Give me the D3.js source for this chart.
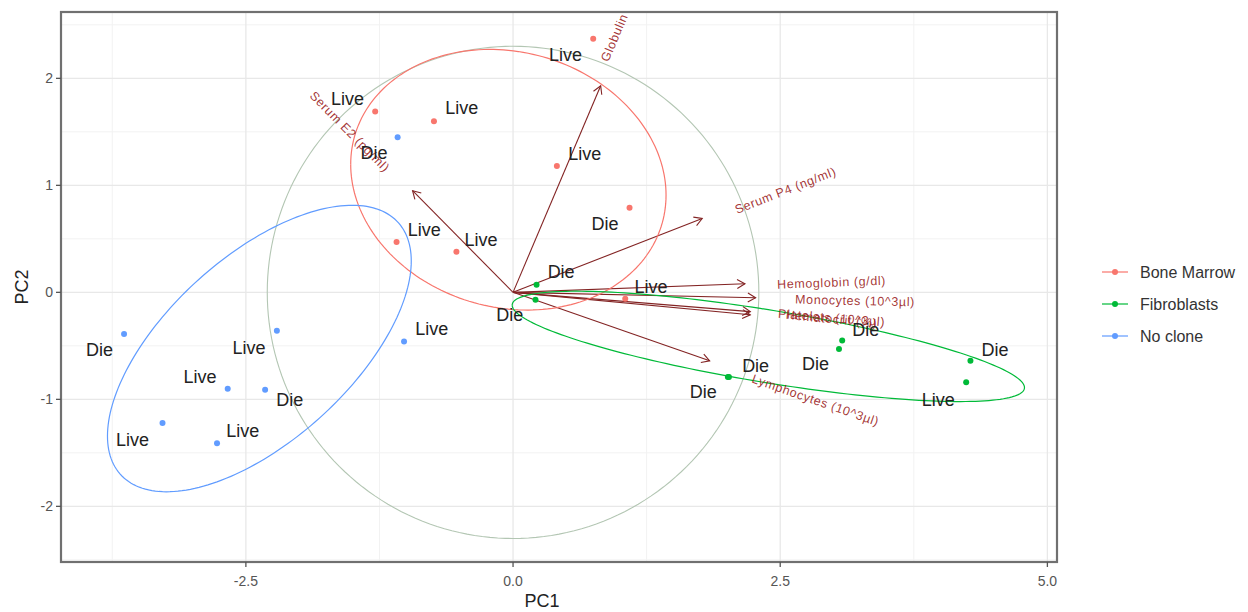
<!DOCTYPE html>
<html><head><meta charset="utf-8">
<script src="https://cdn.jsdelivr.net/npm/d3@7"></script>
<style>body{margin:0;background:#fff}svg{display:block;font-family:"Liberation Sans",Arial,sans-serif}</style>
</head><body><svg id="c" width="1248" height="612"></svg>
<script>
// ---- data ----
const groups = ["Bone Marrow", "Fibroblasts", "No clone"];
const groupColors = ["#F8766D", "#00BA38", "#619CFF"];

const pointGroup = ["Bone Marrow","Bone Marrow","Bone Marrow","Bone Marrow","Bone Marrow","Bone Marrow","Bone Marrow","Bone Marrow",
  "Fibroblasts","Fibroblasts","Fibroblasts","Fibroblasts","Fibroblasts","Fibroblasts","Fibroblasts","Fibroblasts",
  "No clone","No clone","No clone","No clone","No clone","No clone","No clone","No clone"];
const pointPC1 = [0.75,-1.29,-0.74,0.41,1.09,-1.09,-0.53,1.05,
  0.22,0.21,2.01,2.02,3.08,3.05,4.28,4.24,
  -3.64,-2.21,-2.67,-2.32,-3.28,-2.77,-1.02,-1.08];
const pointPC2 = [2.37,1.69,1.60,1.18,0.79,0.47,0.38,-0.06,
  0.07,-0.07,-0.79,-0.79,-0.45,-0.53,-0.64,-0.84,
  -0.39,-0.36,-0.90,-0.91,-1.22,-1.41,-0.46,1.45];
const outcome = ["Live","Live","Live","Live","Die","Live","Live","Live",
  "Die","Die","Die","Die","Die","Die","Die","Live",
  "Die","Live","Live","Die","Live","Live","Live","Die"];
const labelPC1 = [0.49,-1.55,-0.48,0.67,0.86,-0.83,-0.30,1.29,
  0.45,-0.03,1.78,2.27,3.30,2.83,4.51,3.98,
  -3.87,-2.47,-2.93,-2.09,-3.56,-2.53,-0.76,-1.30];
const labelPC2 = [2.22,1.81,1.72,1.29,0.64,0.58,0.49,0.05,
  0.19,-0.21,-0.93,-0.69,-0.35,-0.67,-0.54,-1.01,
  -0.54,-0.52,-0.79,-1.01,-1.38,-1.30,-0.34,1.30];

const varNames = ["Globulin","Serum E2 (pg/ml)","Serum P4 (ng/ml)","Hemoglobin (g/dl)","Monocytes (10^3µl)","Platelets (10^3µl)","Hematocrit (%)","Lymphocytes (10^3µl)"];
const varPC1 = [0.82,-0.94,1.77,2.17,2.27,2.22,2.22,1.84];
const varPC2 = [1.93,0.95,0.69,0.08,-0.05,-0.18,-0.21,-0.64];
const varLabelPC1 = [0.95,-1.53,2.55,2.98,3.20,2.98,2.98,2.83];
const varLabelPC2 = [2.38,1.50,0.95,0.09,-0.08,-0.24,-0.25,-1.01];

const circleRadius = 2.30;
const ellipseProb = 0.68;

const xTicks = [-2.5, 0, 2.5, 5];
const xTickLabels = ["-2.5", "0.0", "2.5", "5.0"];
const xMinor = [-3.75, -1.25, 1.25, 3.75];
const yTicks = [-2, -1, 0, 1, 2];
const yTickLabels = ["-2", "-1", "0", "1", "2"];
const yMinor = [-2.5, -1.5, -0.5, 0.5, 1.5, 2.5];
const xDomain = [-4.23, 5.09];
const yDomain = [-2.52, 2.62];

// ---- layout ----
const svg = d3.select("#c");
const P = {l: 61, t: 12, r: 1057, b: 562};
const x = d3.scaleLinear().domain(xDomain).range([P.l, P.r]);
const y = d3.scaleLinear().domain(yDomain).range([P.b, P.t]);
const color = d3.scaleOrdinal().domain(groups).range(groupColors);

svg.append("rect").attr("width",1248).attr("height",612).attr("fill","#fff");
svg.append("defs").append("clipPath").attr("id","clip").append("rect")
  .attr("x",P.l).attr("y",P.t).attr("width",P.r-P.l).attr("height",P.b-P.t);

const grid = svg.append("g");
grid.selectAll(".xm").data(xMinor).join("line").attr("x1",d=>x(d)).attr("x2",d=>x(d)).attr("y1",P.t).attr("y2",P.b).attr("stroke","#f2f2f2").attr("stroke-width",1);
grid.selectAll(".ym").data(yMinor).join("line").attr("y1",d=>y(d)).attr("y2",d=>y(d)).attr("x1",P.l).attr("x2",P.r).attr("stroke","#f2f2f2").attr("stroke-width",1);
grid.selectAll(".xM").data(xTicks).join("line").attr("x1",d=>x(d)).attr("x2",d=>x(d)).attr("y1",P.t).attr("y2",P.b).attr("stroke","#e8e8e8").attr("stroke-width",1.3);
grid.selectAll(".yM").data(yTicks).join("line").attr("y1",d=>y(d)).attr("y2",d=>y(d)).attr("x1",P.l).attr("x2",P.r).attr("stroke","#e8e8e8").attr("stroke-width",1.3);

const plot = svg.append("g").attr("clip-path","url(#clip)");
const line = d3.line().x(d=>x(d[0])).y(d=>y(d[1]));

// correlation circle
const theta = d3.range(0, 201).map(i => -Math.PI + 2*Math.PI*i/200);
plot.append("path").datum(theta.map(t=>[circleRadius*Math.cos(t), circleRadius*Math.sin(t)]))
  .attr("d", line).attr("fill","none").attr("stroke","#b3c6b3").attr("stroke-width",1.1);

// arrows
const arrows = plot.append("g");
varNames.forEach((n,i)=>{
  const x0 = x(0), y0 = y(0), x1 = x(varPC1[i]), y1 = y(varPC2[i]);
  const ang = Math.atan2(y1-y0, x1-x0), L = 9, a = Math.PI/6;
  arrows.append("line").attr("x1",x0).attr("y1",y0).attr("x2",x1).attr("y2",y1)
    .attr("stroke","#832424").attr("stroke-width",1.1);
  arrows.append("path").attr("d",
    `M${x1-L*Math.cos(ang-a)},${y1-L*Math.sin(ang-a)}L${x1},${y1}L${x1-L*Math.cos(ang+a)},${y1-L*Math.sin(ang+a)}`)
    .attr("fill","none").attr("stroke","#832424").attr("stroke-width",1.1);
});

// points
plot.selectAll(".pt").data(pointPC1).join("circle")
  .attr("cx",(d,i)=>x(pointPC1[i])).attr("cy",(d,i)=>y(pointPC2[i])).attr("r",3)
  .attr("fill",(d,i)=>color(pointGroup[i]));

// ellipses (normal, prob 0.68, as ggbiplot)
const ed = Math.sqrt(-2*Math.log(1-ellipseProb));
groups.forEach(g=>{
  const idx = pointGroup.map((v,i)=>v===g?i:-1).filter(i=>i>=0);
  const xs = idx.map(i=>pointPC1[i]), ys = idx.map(i=>pointPC2[i]);
  const mx = d3.mean(xs), my = d3.mean(ys), n = xs.length;
  const sxx = d3.sum(xs.map(v=>(v-mx)**2))/(n-1);
  const syy = d3.sum(ys.map(v=>(v-my)**2))/(n-1);
  const sxy = d3.sum(xs.map((v,k)=>(v-mx)*(ys[k]-my)))/(n-1);
  const r11 = Math.sqrt(sxx), r12 = sxy/r11, r22 = Math.sqrt(syy - r12*r12);
  const pts = theta.map(t=>[mx + ed*Math.cos(t)*r11, my + ed*(Math.cos(t)*r12 + Math.sin(t)*r22)]);
  plot.append("path").datum(pts).attr("d",line).attr("fill","none")
    .attr("stroke",color(g)).attr("stroke-width",1.2);
});

// variable labels
varNames.forEach((n,i)=>{
  const deg = -Math.atan2(varPC2[i], varPC1[i])*180/Math.PI;
  const rot = Math.abs(deg) > 90 ? deg + 180 : deg;
  plot.append("text").attr("transform",`translate(${x(varLabelPC1[i])},${y(varLabelPC2[i])}) rotate(${rot})`)
    .attr("text-anchor","middle").attr("dominant-baseline","central")
    .attr("font-size",12.5).attr("letter-spacing",0.6).attr("fill","#9b1c1c").attr("fill-opacity",0.9).text(n);
});

// sample labels
plot.selectAll(".lb").data(outcome).join("text")
  .attr("x",(d,i)=>x(labelPC1[i])).attr("y",(d,i)=>y(labelPC2[i]))
  .attr("text-anchor","middle").attr("dominant-baseline","central")
  .attr("font-size",18).attr("fill","#222").text(d=>d);

// panel border
svg.append("rect").attr("x",P.l).attr("y",P.t).attr("width",P.r-P.l).attr("height",P.b-P.t)
  .attr("fill","none").attr("stroke","#707070").attr("stroke-width",2.2);

// axes
const ax = svg.append("g");
ax.selectAll(".xt").data(xTicks).join("line").attr("x1",d=>x(d)).attr("x2",d=>x(d)).attr("y1",P.b).attr("y2",P.b+5).attr("stroke","#555").attr("stroke-width",1.3);
ax.selectAll(".xl").data(xTicks).join("text").attr("x",d=>x(d)).attr("y",P.b+24).attr("text-anchor","middle")
  .attr("font-size",14).attr("fill","#555").text((d,i)=>xTickLabels[i]);
ax.selectAll(".yt").data(yTicks).join("line").attr("y1",d=>y(d)).attr("y2",d=>y(d)).attr("x1",P.l-5).attr("x2",P.l).attr("stroke","#555").attr("stroke-width",1.3);
ax.selectAll(".yl").data(yTicks).join("text").attr("x",P.l-8).attr("y",d=>y(d)).attr("text-anchor","end").attr("dominant-baseline","central")
  .attr("font-size",14).attr("fill","#555").text((d,i)=>yTickLabels[i]);
svg.append("text").attr("x",542).attr("y",607).attr("text-anchor","middle").attr("font-size",18).attr("fill","#222").text("PC1");
svg.append("text").attr("transform",`translate(28,${(P.t+P.b)/2}) rotate(-90)`).attr("text-anchor","middle").attr("font-size",18).attr("fill","#222").text("PC2");

// legend
const lg = svg.append("g");
groups.forEach((g,i)=>{
  const yy = 272 + i*32;
  lg.append("line").attr("x1",1102).attr("x2",1128).attr("y1",yy).attr("y2",yy).attr("stroke",color(g)).attr("stroke-width",1.2);
  lg.append("circle").attr("cx",1115).attr("cy",yy).attr("r",3).attr("fill",color(g));
  lg.append("text").attr("x",1140).attr("y",yy).attr("dominant-baseline","central").attr("font-size",16).attr("fill","#333").text(g);
});
</script></body></html>
